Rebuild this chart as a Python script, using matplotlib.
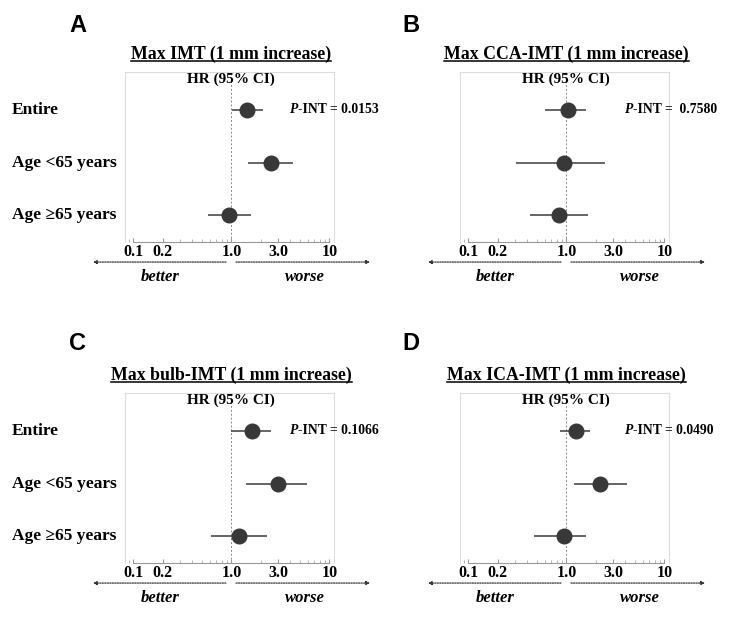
import numpy as np
import matplotlib.pyplot as plt
from matplotlib.lines import Line2D
from matplotlib.ticker import FixedLocator, LogLocator, NullFormatter
from matplotlib.transforms import blended_transform_factory

SERIF = ['Liberation Serif', 'DejaVu Serif']
plt.rcParams['font.family'] = SERIF

# data (hazard ratio, 95% CI)
rows = ['Entire', 'Age <65 years', 'Age \u226565 years']
letters = ['A', 'B', 'C', 'D']
titles = ['Max IMT (1 mm increase)', 'Max CCA-IMT (1 mm increase)',
          'Max bulb-IMT (1 mm increase)', 'Max ICA-IMT (1 mm increase)']
hr_a, lo_a, hi_a = [1.46, 2.52, 0.95], [1.02, 1.49, 0.58], [2.09, 4.23, 1.58]
hr_b, lo_b, hi_b = [1.03, 0.95, 0.84], [0.60, 0.31, 0.43], [1.59, 2.50, 1.65]
hr_c, lo_c, hi_c = [1.64, 3.02, 1.20], [1.00, 1.41, 0.62], [2.54, 5.88, 2.30]
hr_d, lo_d, hi_d = [1.26, 2.21, 0.95], [0.87, 1.19, 0.47], [1.75, 4.16, 1.60]
p_int = ['0.0153', ' 0.7580', '0.1066', '0.0490']
tick_vals = [0.1, 0.2, 1.0, 3.0, 10]
tick_labels = ['0.1', '0.2', '1.0', '3.0', '10']

hrs = [hr_a, hr_b, hr_c, hr_d]
los = [lo_a, lo_b, lo_c, lo_d]
his = [hi_a, hi_b, hi_c, hi_d]

W, H = 750, 617
fig = plt.figure(figsize=(7.5, 6.17), dpi=100)

# axes boxes in pixels (left, bottom-of-axis y from top)
boxes = [(125, 242), (460, 242), (125, 563), (460, 563)]
letter_pos = [(78, 25), (411, 25), (78, 344), (411, 344)]
bw, bh = 209, 170

axes = []
titles_txt = []
for i in range(4):
    x0, yb = boxes[i]
    ax = fig.add_axes([x0 / W, 1 - yb / H, bw / W, bh / H])
    axes.append(ax)
    ax.set_xscale('log')
    ax.set_xlim(0.0822, 11.17)
    ax.set_ylim(2.51, -0.72)
    y = np.arange(len(rows))

    ax.axvline(1.0, color='#888888', lw=0.7, ls=(0, (2, 2)), zorder=1)
    ax.hlines(y, los[i], his[i], color='#3c3c3c', lw=1.1, zorder=2)
    ax.plot(hrs[i], y, 'o', color='#383838', ms=10.5, zorder=3)

    for s in ['left', 'top', 'right']:
        ax.spines[s].set_color('#dddddd')
        ax.spines[s].set_linewidth(0.8)
    ax.spines['bottom'].set_color('#999999')
    ax.spines['bottom'].set_linewidth(0.8)
    ax.spines['bottom'].set_bounds(0.1, 10)

    ax.set_yticks([])
    ax.xaxis.set_major_locator(FixedLocator(tick_vals))
    ax.set_xticklabels(tick_labels, fontsize=11.5, fontweight='bold')
    ax.xaxis.set_minor_locator(LogLocator(base=10, subs=np.arange(2, 10)))
    ax.xaxis.set_minor_formatter(NullFormatter())
    ax.tick_params(axis='x', which='major', direction='in', length=3,
                   color='#999999', pad=1.5)
    ax.tick_params(axis='x', which='minor', direction='in', length=2,
                   color='#aaaaaa')

    tr = blended_transform_factory(ax.transData, ax.transAxes)
    t = ax.text(1.0, 1.076, titles[i], transform=tr, ha='center',
                va='baseline', fontsize=12.8, fontweight='bold')
    titles_txt.append(t)
    ax.text(1.0, 0.955, 'HR (95% CI)', transform=tr, ha='center',
            va='center', fontsize=11, fontweight='bold')

    # P-INT label
    tp = ax.text(0.79, 0, 'P', transform=blended_transform_factory(ax.transAxes, ax.transData),
                 ha='left', va='center', fontsize=9.8, fontweight='bold', style='italic')
    ax.annotate('-INT = ' + p_int[i], xy=(1, 0.5), xycoords=tp, ha='left',
                va='center', fontsize=9.8, fontweight='bold')

    if i in (0, 2):
        trl = blended_transform_factory(ax.transAxes, ax.transData)
        for k, r in enumerate(rows):
            ax.text(-0.541, k, r, transform=trl, ha='left', va='center',
                    fontsize=12.5, fontweight='bold')

    # better / worse arrows
    arr = dict(arrowstyle='-|>', color='#333333', lw=0.9,
               ls=(0, (1, 1)), mutation_scale=5, shrinkA=0, shrinkB=0)
    ax.annotate('', xy=(-0.153, -0.118), xytext=(0.483, -0.118),
                xycoords='axes fraction', arrowprops=arr, annotation_clip=False)
    ax.annotate('', xy=(1.172, -0.118), xytext=(0.531, -0.118),
                xycoords='axes fraction', arrowprops=arr, annotation_clip=False)
    ax.text(0.167, -0.206, 'better', transform=ax.transAxes, ha='center',
            va='center', fontsize=12, style='italic', fontweight='bold')
    ax.text(0.861, -0.206, 'worse', transform=ax.transAxes, ha='center',
            va='center', fontsize=12, style='italic', fontweight='bold')

    lx, ly = letter_pos[i]
    fig.text(lx / W, 1 - ly / H, letters[i], ha='center', va='center',
             fontsize=17, fontweight='bold', family=['Liberation Sans', 'DejaVu Sans'])

# underline titles
fig.canvas.draw()
for ax, t in zip(axes, titles_txt):
    bb = t.get_window_extent()
    yb = ax.transAxes.transform((0, 1.063))[1]
    fig.add_artist(Line2D([bb.x0 / W, bb.x1 / W], [yb / H, yb / H],
                          color='black', lw=1.1, transform=fig.transFigure))

fig.savefig('out.png', dpi=100)
